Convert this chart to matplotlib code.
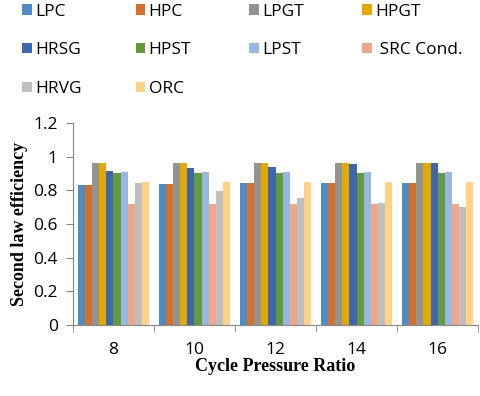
import numpy as np
import matplotlib.pyplot as plt

# data
ratios = ['8', '10', '12', '14', '16']
components = ['LPC', 'HPC', 'LPGT', 'HPGT', 'HRSG', 'HPST', 'LPST',
              ' SRC Cond.', 'HRVG', 'ORC']
lpc = [0.832, 0.838, 0.842, 0.844, 0.844]
hpc = [0.832, 0.838, 0.842, 0.844, 0.844]
lpgt = [0.964, 0.964, 0.964, 0.962, 0.962]
hpgt = [0.964, 0.964, 0.964, 0.962, 0.962]
hrsg = [0.915, 0.931, 0.941, 0.955, 0.964]
hpst = [0.903, 0.903, 0.903, 0.903, 0.903]
lpst = [0.909, 0.909, 0.909, 0.909, 0.909]
src_cond = [0.717, 0.717, 0.717, 0.717, 0.717]
hrvg = [0.842, 0.794, 0.755, 0.723, 0.700]
orc = [0.850, 0.850, 0.850, 0.850, 0.850]

series = [lpc, hpc, lpgt, hpgt, hrsg, hpst, lpst, src_cond, hrvg, orc]
colors = ['#4F8CC2', '#D3702E', '#939393', '#E2A900', '#3D66AE',
          '#639A3F', '#97B9E0', '#EFA78B', '#BFBFBF', '#FFD285']

fig = plt.figure(figsize=(4.8, 3.96), dpi=100)
ax = fig.add_axes([0.152, 0.179, 0.844, 0.510])

x = np.arange(len(ratios))
w = 0.087
handles = []
for i, (vals, c) in enumerate(zip(series, colors)):
    b = ax.bar(x + (i - 4.5) * w, vals, w, color=c, linewidth=0)
    handles.append(b)

ax.set_xlim(-0.5, len(ratios) - 0.5)
ax.set_ylim(0, 1.2)
ax.set_yticks([0, 0.2, 0.4, 0.6, 0.8, 1.0, 1.2])
ax.set_yticklabels(['0', '0.2', '0.4', '0.6', '0.8', '1', '1.2'])
ax.set_xticks(x)
ax.set_xticklabels(ratios)
ax.set_xticks(np.arange(len(ratios) + 1) - 0.5, minor=True)
ax.tick_params(axis='x', which='major', length=0, pad=12)
ax.tick_params(axis='x', which='minor', length=5, color='#868686')
ax.tick_params(axis='y', length=5, color='#868686', pad=6)
for lab in ax.get_xticklabels() + ax.get_yticklabels():
    lab.set_fontfamily('Open Sans')
    lab.set_fontsize(12.5)
for s in ['top', 'right']:
    ax.spines[s].set_visible(False)
for s in ['left', 'bottom']:
    ax.spines[s].set_color('#868686')

ax.set_xlabel('Cycle Pressure Ratio', fontfamily='Liberation Serif',
              fontweight='bold', fontsize=13, labelpad=0)
ax.set_ylabel('Second law efficiency', fontfamily='Liberation Serif',
              fontweight='bold', fontsize=13, labelpad=4)

# one legend per column so the columns sit at fixed positions, filled row-wise
col_x = [0.014, 0.250, 0.487, 0.722]
for c in range(4):
    fig.legend(handles[c::4], components[c::4], loc='upper left',
               bbox_to_anchor=(col_x[c], 1.03), frameon=False,
               prop={'family': 'Open Sans', 'size': 12.5},
               handlelength=0.55, handleheight=0.55, handletextpad=0.2,
               labelspacing=1.3, borderpad=0.4)

fig.savefig('out.png', dpi=100)
